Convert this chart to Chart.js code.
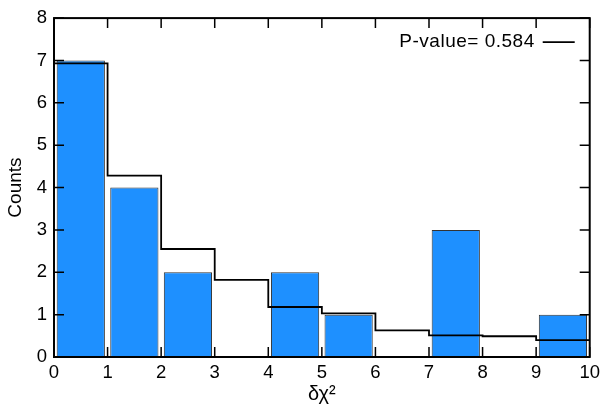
<!DOCTYPE html>
<html>
<head>
<meta charset="utf-8">
<script src="https://cdn.jsdelivr.net/npm/chart.js@4"></script>
<style>
  body { margin: 0; background: #fff; }
</style>
</head>
<body>
<canvas id="grafico" width="605" height="411"></canvas>
<script>
// bins of delta chi^2 (edges, width 1)
const binEdges = [0, 1, 2, 3, 4, 5, 6, 7, 8, 9, 10];
const counts = [7, 4, 2, 0, 2, 1, 0, 3, 0, 1];
// expected counts (step line)
const expected = [6.93, 4.28, 2.55, 1.82, 1.18, 1.03, 0.63, 0.51, 0.49, 0.40];
const etiquetaLeyenda = "P-value= 0.584";

const fuente = "'Liberation Sans', Arial, Helvetica, sans-serif";

const datosBarras = counts.map((c, i) => ({ x: (binEdges[i] + binEdges[i + 1]) / 2, y: c }));
const datosEscalon = expected.map((v, i) => ({ x: binEdges[i], y: v }));
datosEscalon.push({ x: binEdges[binEdges.length - 1], y: expected[expected.length - 1] });

// marco, ticks hacia dentro y leyenda
const marcoTicks = {
    id: "marcoTicks",
    afterDatasetsDraw(chart) {
        const { ctx, chartArea: a, scales: { x, y } } = chart;
        const largo = 10;
        ctx.save();
        ctx.strokeStyle = "#000";
        ctx.lineWidth = 1.5;
        ctx.beginPath();
        x.ticks.forEach(t => {
            const px = x.getPixelForValue(t.value);
            ctx.moveTo(px, a.bottom); ctx.lineTo(px, a.bottom - largo);
            ctx.moveTo(px, a.top); ctx.lineTo(px, a.top + largo);
        });
        y.ticks.forEach(t => {
            const py = y.getPixelForValue(t.value);
            ctx.moveTo(a.left, py); ctx.lineTo(a.left + largo, py);
            ctx.moveTo(a.right, py); ctx.lineTo(a.right - largo, py);
        });
        ctx.stroke();
        ctx.lineWidth = 2;
        ctx.strokeRect(a.left, a.top, a.right - a.left, a.bottom - a.top);

        // leyenda
        const ds = chart.data.datasets[0];
        const yl = a.top + 24;
        ctx.font = "19px " + fuente;
        ctx.letterSpacing = "0.5px";
        ctx.fillStyle = "#000";
        ctx.textAlign = "right";
        ctx.textBaseline = "middle";
        ctx.fillText(ds.label, a.right - 55, yl);
        ctx.strokeStyle = ds.borderColor;
        ctx.lineWidth = ds.borderWidth;
        ctx.beginPath();
        ctx.moveTo(a.right - 47, yl);
        ctx.lineTo(a.right - 15, yl);
        ctx.stroke();
        ctx.restore();
    }
};

new Chart(document.getElementById("grafico").getContext("2d"), {
    type: "bar",
    data: {
        datasets: [
            {
                type: "line",
                label: etiquetaLeyenda,
                data: datosEscalon,
                stepped: "before",
                borderColor: "#000",
                borderWidth: 1.8,
                pointRadius: 0,
                fill: false,
                order: 0
            },
            {
                label: "Counts",
                data: datosBarras,
                backgroundColor: "#1E90FF",
                borderColor: "#333",
                borderWidth: 1,
                borderSkipped: false,
                barPercentage: 0.9,
                categoryPercentage: 1.0,
                order: 1
            }
        ]
    },
    options: {
        responsive: false,
        animation: false,
        layout: { padding: { top: 16, right: 15, left: 0, bottom: 0 } },
        plugins: {
            legend: { display: false },
            tooltip: { enabled: false }
        },
        scales: {
            x: {
                type: "linear",
                min: 0,
                max: 10,
                offset: false,
                grid: { display: false, drawTicks: false, tickLength: 0 },
                border: { display: false },
                ticks: {
                    stepSize: 1,
                    autoSkip: false,
                    maxRotation: 0,
                    padding: 5,
                    color: "#000",
                    font: { family: fuente, size: 18.5 }
                },
                title: {
                    display: true,
                    text: "δχ²",
                    color: "#000",
                    font: { family: fuente, size: 20 },
                    padding: { top: 0, bottom: 5 }
                },
                afterFit: s => { s.height = 54; }
            },
            y: {
                min: 0,
                max: 8,
                grid: { display: false, drawTicks: false, tickLength: 0 },
                border: { display: false },
                ticks: {
                    stepSize: 1,
                    padding: 7,
                    color: "#000",
                    font: { family: fuente, size: 18.5 }
                },
                title: {
                    display: true,
                    text: "Counts",
                    color: "#000",
                    font: { family: fuente, size: 19 },
                    padding: { top: 4, bottom: 0 }
                },
                afterFit: s => { s.width = 54; }
            }
        }
    },
    plugins: [marcoTicks]
});
</script>
</body>
</html>
